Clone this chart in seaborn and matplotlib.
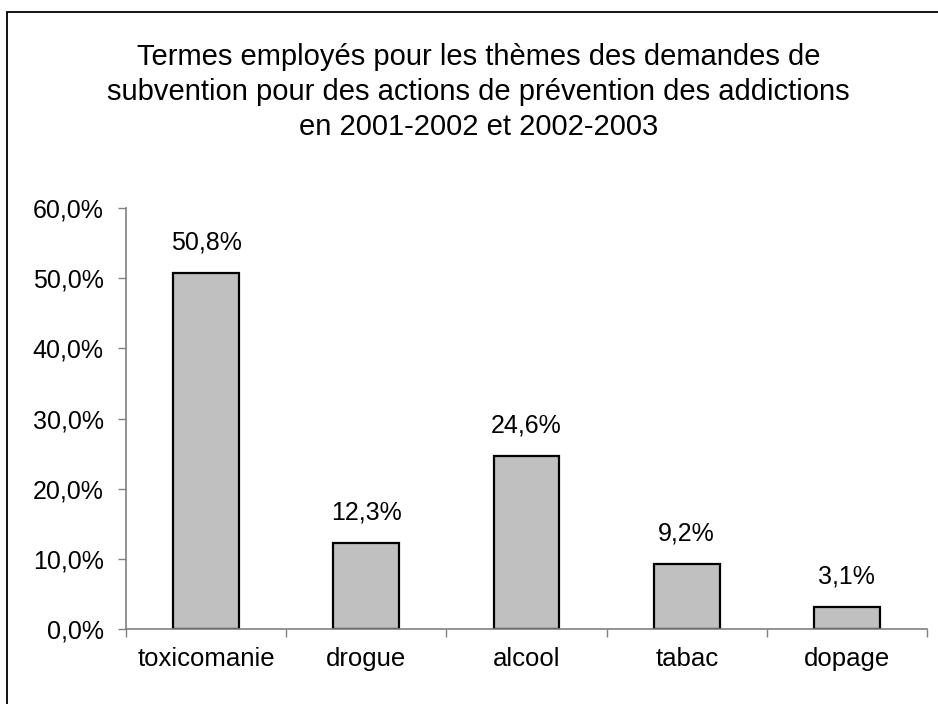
import matplotlib
matplotlib.use('Agg')
import matplotlib.pyplot as plt
from matplotlib.patches import Rectangle
from matplotlib.ticker import FuncFormatter, MultipleLocator
import pandas as pd
import seaborn as sns

# données
categories = ['toxicomanie', 'drogue', 'alcool', 'tabac', 'dopage']
valeurs = [50.8, 12.3, 24.6, 9.2, 3.1]
titre = ('Termes employés pour les thèmes des demandes de\n'
         'subvention pour des actions de prévention des addictions\n'
         'en 2001-2002 et 2002-2003')

sns.set_style('white')
plt.rcParams['font.family'] = ['Liberation Sans', 'DejaVu Sans']
plt.rcParams['text.color'] = 'black'
plt.rcParams['xtick.labelcolor'] = 'black'
plt.rcParams['ytick.labelcolor'] = 'black'

df = pd.DataFrame({'terme': categories, 'part': valeurs})

fig = plt.figure(figsize=(9.38, 7.04), dpi=100)
ax = fig.add_axes([0.1343, 0.1065, 0.9883 - 0.1343, 0.7045 - 0.1065])

sns.barplot(data=df, x='terme', y='part', ax=ax, color='#C0C0C0',
            saturation=1, width=0.41, edgecolor='black', linewidth=1.6)

# étiquettes au-dessus des barres
for i, v in enumerate(valeurs):
    ax.annotate(f'{v:.1f}%'.replace('.', ','), (i, v), xytext=(0, 22),
                textcoords='offset points', ha='center', va='center',
                fontsize=18)

ax.set_xlim(-0.5, len(categories) - 0.5)
ax.set_ylim(0, 60)
ax.yaxis.set_major_locator(MultipleLocator(10))
ax.yaxis.set_major_formatter(FuncFormatter(lambda y, _: f'{y:.1f}%'.replace('.', ',')))

# graduations entre les catégories
ax.set_xticks([i - 0.5 for i in range(len(categories) + 1)], minor=False)
ax.set_xticklabels([])
ax.set_xticks(range(len(categories)), minor=True)
ax.set_xticklabels(categories, minor=True)
ax.tick_params(axis='x', which='major', direction='out', length=6, width=1,
               color='#808080', bottom=True)
ax.tick_params(axis='x', which='minor', length=0, pad=13, labelsize=18.5,
               labelcolor='black')
ax.tick_params(axis='y', direction='out', length=6, width=1, color='#808080',
               left=True, pad=10, labelsize=18, labelcolor='black')

ax.set_xlabel('')
ax.set_ylabel('')
for s in ['top', 'right']:
    ax.spines[s].set_visible(False)
for s in ['left', 'bottom']:
    ax.spines[s].set_color('#808080')
    ax.spines[s].set_linewidth(1.2)

fig.text(0.51, 1 - 92 / 704, titre, ha='center', va='center', fontsize=21,
         linespacing=1.3, color='black')

# cadre du graphique
fig.patches.append(Rectangle((7 / 938, -0.1), 1.2, (1 - 12 / 704) + 0.1,
                             transform=fig.transFigure, fill=False,
                             edgecolor='black', linewidth=1.3))

plt.savefig('out.png', dpi=100)
